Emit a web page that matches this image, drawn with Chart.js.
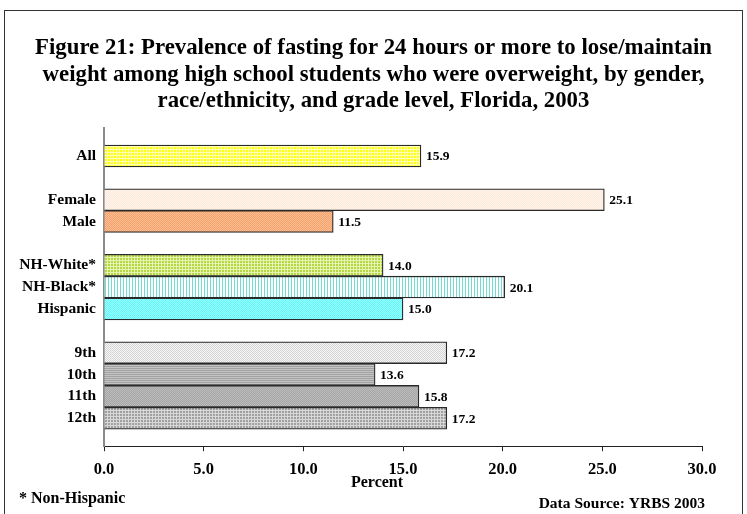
<!DOCTYPE html>
<html>
<head>
<meta charset="utf-8">
<script src="https://cdn.jsdelivr.net/npm/chart.js@4/dist/chart.umd.min.js"></script>
<style>
  html, body { margin: 0; padding: 0; background: #fff; }
  #wrap { position: relative; width: 747px; height: 514px; overflow: hidden; }
  #frame { position: absolute; left: 4px; top: 10px; width: 739px; height: 530px;
           border: 1px solid #333; box-sizing: border-box; }
  #c { position: absolute; left: 0; top: 0; }
</style>
</head>
<body>
<div id="wrap">
  <div id="frame"></div>
  <canvas id="c" width="747" height="514"></canvas>
</div>
<script>
// Survey groups, listed top to bottom
const overallLabels = ['All'];
const overallValues = [15.9];
const genderLabels = ['Female', 'Male'];
const genderValues = [25.1, 11.5];
const raceLabels = ['NH-White*', 'NH-Black*', 'Hispanic'];
const raceValues = [14.0, 20.1, 15.0];
const gradeLabels = ['9th', '10th', '11th', '12th'];
const gradeValues = [17.2, 13.6, 15.8, 17.2];
const xTickValues = [0, 5, 10, 15, 20, 25, 30];

const titleLines = [
  'Figure 21: Prevalence of fasting for 24 hours or more to lose/maintain',
  'weight among high school students who were overweight, by gender,',
  'race/ethnicity, and grade level, Florida, 2003'
];
const axisTitle = 'Percent';
const footLeft = '* Non-Hispanic';
const footRight = 'Data Source: YRBS 2003';

// Hatch / dot fills for each bar
function pattern(w, h, draw) {
  const c = document.createElement('canvas');
  c.width = w; c.height = h;
  const g = c.getContext('2d');
  draw(g, w, h);
  return g.createPattern(c, 'repeat');
}
function grid(base, line, n) {
  return pattern(n, n, (g, w, h) => {
    g.fillStyle = base; g.fillRect(0, 0, w, h);
    g.fillStyle = line; g.fillRect(w - 1, 0, 1, h); g.fillRect(0, h - 1, w, 1);
  });
}
function dots(base, dot) {
  return pattern(2, 2, (g) => {
    g.fillStyle = base; g.fillRect(0, 0, 2, 2);
    g.fillStyle = dot; g.fillRect(0, 0, 1, 1); g.fillRect(1, 1, 1, 1);
  });
}
function vstripes(base, line) {
  return pattern(3, 1, (g) => {
    g.fillStyle = base; g.fillRect(0, 0, 3, 1);
    g.fillStyle = line; g.fillRect(0, 0, 1, 1);
  });
}
function hstripes(a, b) {
  return pattern(1, 2, (g) => {
    g.fillStyle = a; g.fillRect(0, 0, 1, 1);
    g.fillStyle = b; g.fillRect(0, 1, 1, 1);
  });
}

const overallFills = [grid('#ffff10', '#ffffb8', 3)];
const genderFills = [dots('#fde8d8', '#fff6ef'), dots('#f7a06a', '#fbbf96')];
const raceFills = [grid('#b4d844', '#e6f3b0', 3), vstripes('#ffffff', '#6fded0'), dots('#5ff7f7', '#9cffff')];
const gradeFills = [dots('#f6f6f6', '#d4d4d4'), hstripes('#a2a2a2', '#c4c4c4'), dots('#a6a6a6', '#bcbcbc'), grid('#a0a0a0', '#d8d8d8', 3)];

// Join the groups with an empty row between them
const groupLabels = [overallLabels, genderLabels, raceLabels, gradeLabels];
const groupValues = [overallValues, genderValues, raceValues, gradeValues];
const groupFills = [overallFills, genderFills, raceFills, gradeFills];
const labels = [], values = [], fills = [];
groupLabels.forEach((g, gi) => {
  if (gi > 0) { labels.push(''); values.push(null); fills.push('rgba(0,0,0,0)'); }
  g.forEach((l, i) => { labels.push(l); values.push(groupValues[gi][i]); fills.push(groupFills[gi][i]); });
});

const serif = '"Liberation Serif", "Times New Roman", serif';

const valueLabels = {
  id: 'valueLabels',
  afterDatasetsDraw(chart) {
    const ctx = chart.ctx;
    const meta = chart.getDatasetMeta(0);
    const data = chart.data.datasets[0].data;
    ctx.save();
    ctx.font = 'bold 13.5px ' + serif;
    ctx.fillStyle = '#000';
    ctx.textAlign = 'left';
    ctx.textBaseline = 'middle';
    meta.data.forEach((bar, i) => {
      const v = data[i];
      if (v === null || v === undefined) return;
      ctx.fillText(v.toFixed(1), bar.x + 5, bar.y + 1);
    });
    ctx.restore();
  }
};

// Page heading (centred on the whole page), axis caption and source notes
const captions = {
  id: 'captions',
  afterDraw(chart) {
    const ctx = chart.ctx;
    const w = chart.width;
    ctx.save();
    ctx.fillStyle = '#000';
    ctx.textBaseline = 'middle';
    ctx.textAlign = 'center';
    ctx.font = 'bold 22.8px ' + serif;
    titleLines.forEach((line, i) => ctx.fillText(line, w / 2, 48 + i * 26.7));
    ctx.font = 'bold 16px ' + serif;
    ctx.fillText(axisTitle, 377, 483);
    ctx.textAlign = 'left';
    ctx.fillText(footLeft, 19, 499);
    ctx.font = 'bold 15.5px ' + serif;
    ctx.textAlign = 'right';
    ctx.fillText(footRight, 705, 504);
    ctx.restore();
  }
};

new Chart(document.getElementById('c'), {
  type: 'bar',
  data: {
    labels: labels,
    datasets: [{
      data: values,
      backgroundColor: fills,
      borderColor: '#2a2a2a',
      borderWidth: 1.3,
      barPercentage: 1,
      categoryPercentage: 1
    }]
  },
  options: {
    indexAxis: 'y',
    responsive: false,
    animation: false,
    layout: { padding: { top: 128, left: 0, right: 45, bottom: 25 } },
    plugins: {
      legend: { display: false },
      tooltip: { enabled: false },
      title: { display: false }
    },
    scales: {
      x: {
        min: 0, max: 30,
        afterBuildTicks(scale) { scale.ticks = xTickValues.map(v => ({ value: v })); },
        ticks: {
          color: '#000',
          padding: 9,
          font: { family: serif, size: 16.5, weight: 'bold' },
          callback: v => Number(v).toFixed(1)
        },
        grid: { display: true, drawOnChartArea: false, drawTicks: true, tickLength: 5, color: '#222', lineWidth: 1 },
        border: { display: true, color: '#222', width: 1 }
      },
      y: {
        offset: true,
        afterFit(scale) { scale.width = 104; },
        afterBuildTicks(scale) {
          // leave a little room above the first bar and below the last one
          const pad = 0.78;
          const n = scale.getLabels().length;
          scale._startValue = -0.5 - pad;
          scale._valueRange = n + 2 * pad;
        },
        ticks: {
          color: '#000',
          padding: 8,
          autoSkip: false,
          font: { family: serif, size: 15.5, weight: 'bold' }
        },
        grid: { display: false, drawTicks: false },
        border: { display: true, color: '#8a8a8a', width: 2 }
      }
    }
  },
  plugins: [valueLabels, captions]
});
</script>
</body>
</html>
